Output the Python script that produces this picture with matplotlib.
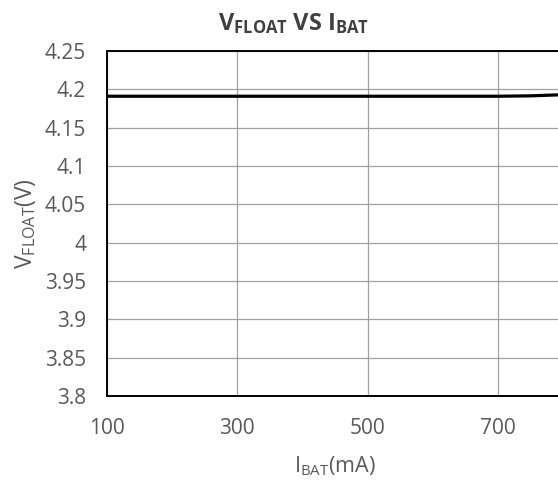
import matplotlib
matplotlib.use("Agg")
import matplotlib.pyplot as plt

# Data
i_bat = [100, 200, 300, 400, 500, 600, 700, 750, 800]
v_float = [4.191, 4.191, 4.191, 4.191, 4.191, 4.191, 4.191, 4.1915, 4.193]
x_ticks = [100, 300, 500, 700]
y_ticks = [3.8, 3.85, 3.9, 3.95, 4.0, 4.05, 4.1, 4.15, 4.2, 4.25]
y_tick_labels = ["3.8", "3.85", "3.9", "3.95", "4", "4.05", "4.1", "4.15", "4.2", "4.25"]

plt.rcParams['font.family'] = ['Open Sans', 'DejaVu Sans']
plt.rcParams['mathtext.fontset'] = 'custom'
plt.rcParams['mathtext.rm'] = 'Open Sans'
plt.rcParams['mathtext.it'] = 'Open Sans'
plt.rcParams['mathtext.bf'] = 'Open Sans:bold'

W, H = 558, 484
fig = plt.figure(figsize=(W / 100, H / 100), dpi=100)
left, right, top, bottom = 107, 563, 51, 396
ax = fig.add_axes([left / W, 1 - bottom / H, (right - left) / W, (bottom - top) / H])

ax.plot(i_bat, v_float, color='black', lw=2.3, solid_capstyle='butt')
ax.set_xlim(100, 800)
ax.set_ylim(3.8, 4.25)
ax.set_xticks(x_ticks)
ax.set_yticks(y_ticks)
ax.set_yticklabels(y_tick_labels)
ax.grid(True, color='#a0a0a0', lw=0.9)
ax.set_axisbelow(True)
ax.tick_params(length=0, labelsize=15, colors='#595959')
ax.tick_params(axis='y', pad=15)
ax.tick_params(axis='x', pad=16)
for s in ['left', 'bottom', 'top', 'right']:
    ax.spines[s].set_color('black')
    ax.spines[s].set_linewidth(1.4)

fig.text(294 / W, 1 - 24 / H, r'$\mathbf{V_{FLOAT}\;VS\;I_{BAT}}$', ha='center', va='center',
         fontsize=17, color='#404040')
fig.text(335 / W, 1 - 466 / H, r'$\mathrm{I_{BAT}(mA)}$', ha='center', va='center',
         fontsize=15.5, color='#595959')
fig.text(26 / W, 1 - 224 / H, r'$\mathrm{V_{FLOAT}(V)}$', ha='center', va='center',
         fontsize=16.5, color='#595959', rotation=90)

fig.savefig('out.png', dpi=100)
